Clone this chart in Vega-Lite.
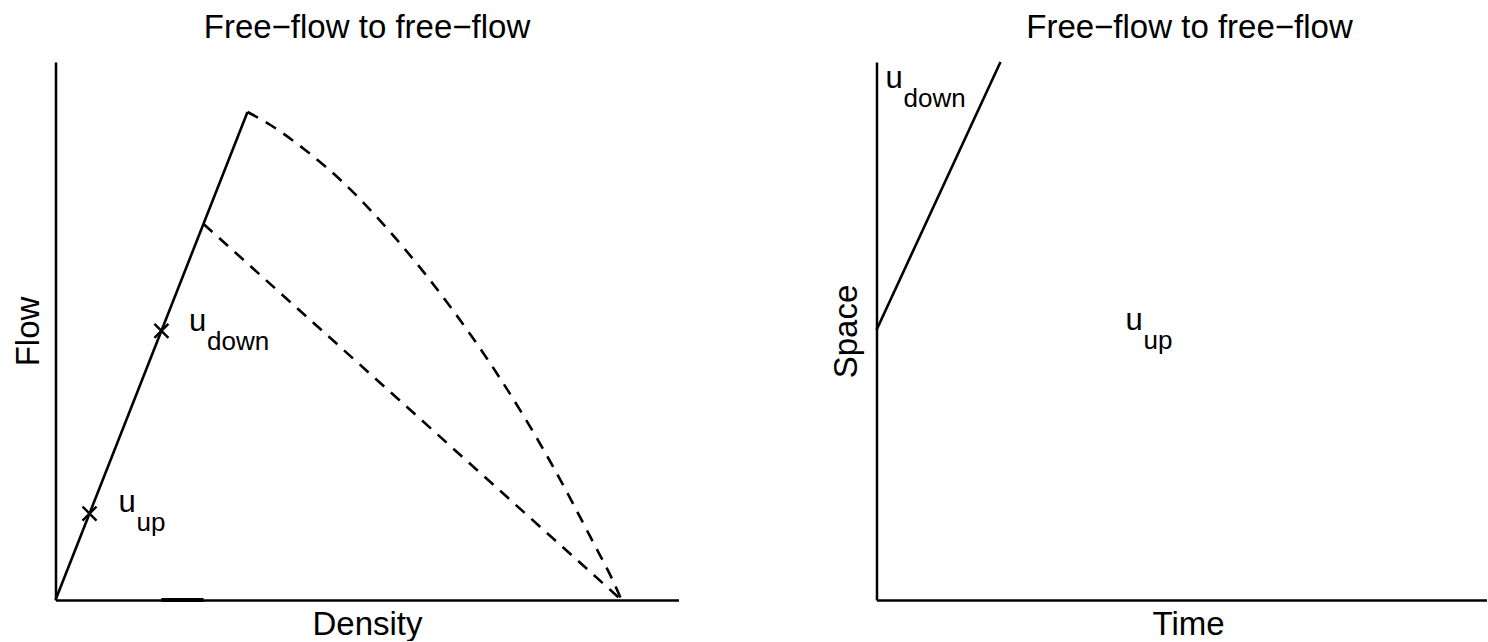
{
  "$schema": "https://vega.github.io/schema/vega-lite/v6.json",
  "background": "white",
  "padding": {"left": 11.5, "top": 11, "right": 0, "bottom": 0},
  "spacing": 152,
  "config": {
    "view": {"stroke": null},
    "font": "Liberation Sans",
    "axis": {
      "domainColor": "black",
      "domainWidth": 2.5,
      "ticks": false,
      "labels": false,
      "grid": false,
      "titleFont": "Liberation Sans",
      "titleFontSize": 33,
      "titleFontWeight": "normal",
      "titleColor": "black"
    },
    "title": {
      "font": "Liberation Sans",
      "fontSize": 33,
      "fontWeight": "normal",
      "color": "black",
      "offset": 17,
      "frame": "group"
    },
    "text": {"font": "Liberation Sans", "color": "black", "align": "left", "baseline": "alphabetic"}
  },
  "hconcat": [
    {
      "width": 623,
      "height": 538,
      "title": {"text": "Free−flow to free−flow"},
      "encoding": {
        "x": {"field": "density", "type": "quantitative", "scale": {"domain": [0, 1], "nice": false}, "axis": {"title": "Density", "titlePadding": 8}},
        "y": {"field": "flow", "type": "quantitative", "scale": {"domain": [0, 1], "nice": false}, "axis": {"title": "Flow", "titlePadding": 10.5}}
      },
      "layer": [
        {
          "description": "Free-flow branch of the fundamental diagram",
          "data": {"values": [{"density": 0, "flow": 0}, {"density": 0.3082, "flow": 0.9071}]},
          "mark": {"type": "line", "color": "black", "strokeWidth": 2.6}
        },
        {
          "description": "Congested branches (dashed)",
          "data": {"values": [
            {"branch": "upper", "density": 0.3082, "flow": 0.9071},
            {"branch": "upper", "density": 0.3451, "flow": 0.8829},
            {"branch": "upper", "density": 0.4029, "flow": 0.8346},
            {"branch": "upper", "density": 0.4575, "flow": 0.7807},
            {"branch": "upper", "density": 0.5538, "flow": 0.6617},
            {"branch": "upper", "density": 0.6340, "flow": 0.5446},
            {"branch": "upper", "density": 0.7143, "flow": 0.4108},
            {"branch": "upper", "density": 0.7945, "flow": 0.2565},
            {"branch": "upper", "density": 0.8636, "flow": 0.1059},
            {"branch": "upper", "density": 0.8957, "flow": 0.0335},
            {"branch": "upper", "density": 0.9085, "flow": 0},
            {"branch": "lower", "density": 0.2376, "flow": 0.699},
            {"branch": "lower", "density": 0.9085, "flow": 0}
          ]},
          "mark": {"type": "line", "color": "black", "strokeWidth": 2.6, "strokeDash": [12, 9], "interpolate": "monotone"},
          "encoding": {"detail": {"field": "branch"}}
        },
        {
          "description": "Density interval marked on the axis",
          "data": {"values": [{"density": 0.170, "density_end": 0.2376, "flow": 0}]},
          "mark": {"type": "rule", "color": "black", "strokeWidth": 4},
          "encoding": {"x2": {"field": "density_end"}}
        },
        {
          "description": "Upstream and downstream states",
          "data": {"values": [{"state": "up", "density": 0.0546, "flow": 0.1607}, {"state": "down", "density": 0.170, "flow": 0.5003}]},
          "mark": {"type": "point", "shape": "M-1,-1L1,1M-1,1L1,-1", "filled": false, "color": "black", "strokeWidth": 2.4, "size": 196, "opacity": 1}
        },
        {
          "data": {"name": "leftLabels", "values": [{"density": 0.1011, "flow": 0.1636, "base": "u", "sub": "up"}, {"density": 0.2143, "flow": 0.5, "base": "u", "sub": "down"}]},
          "mark": {"type": "text", "fontSize": 31},
          "encoding": {"text": {"field": "base"}}
        },
        {
          "data": {"name": "leftLabels"},
          "mark": {"type": "text", "fontSize": 26, "dx": 18, "dy": 19},
          "encoding": {"text": {"field": "sub"}}
        }
      ]
    },
    {
      "width": 610,
      "height": 538,
      "title": {"text": "Free−flow to free−flow", "dx": 8, "offset": 12},
      "encoding": {
        "x": {"field": "time", "type": "quantitative", "scale": {"domain": [0, 0.9791], "nice": false}, "axis": {"title": "Time", "titlePadding": 8, "titleX": 311.5}},
        "y": {"field": "space", "type": "quantitative", "scale": {"domain": [0, 1], "nice": false}, "axis": {"title": "Space", "titlePadding": 13}}
      },
      "layer": [
        {
          "description": "Boundary between downstream and upstream states",
          "data": {"values": [{"time": 0, "space": 0.5019}, {"time": 0.199, "space": 1}]},
          "mark": {"type": "line", "color": "black", "strokeWidth": 2.6}
        },
        {
          "data": {"name": "rightLabels", "values": [{"time": 0.01445, "space": 0.9517, "base": "u", "sub": "down"}, {"time": 0.3997, "space": 0.5019, "base": "u", "sub": "up"}]},
          "mark": {"type": "text", "fontSize": 31},
          "encoding": {"text": {"field": "base"}}
        },
        {
          "data": {"name": "rightLabels"},
          "mark": {"type": "text", "fontSize": 26, "dx": 18, "dy": 19},
          "encoding": {"text": {"field": "sub"}}
        }
      ]
    }
  ]
}
